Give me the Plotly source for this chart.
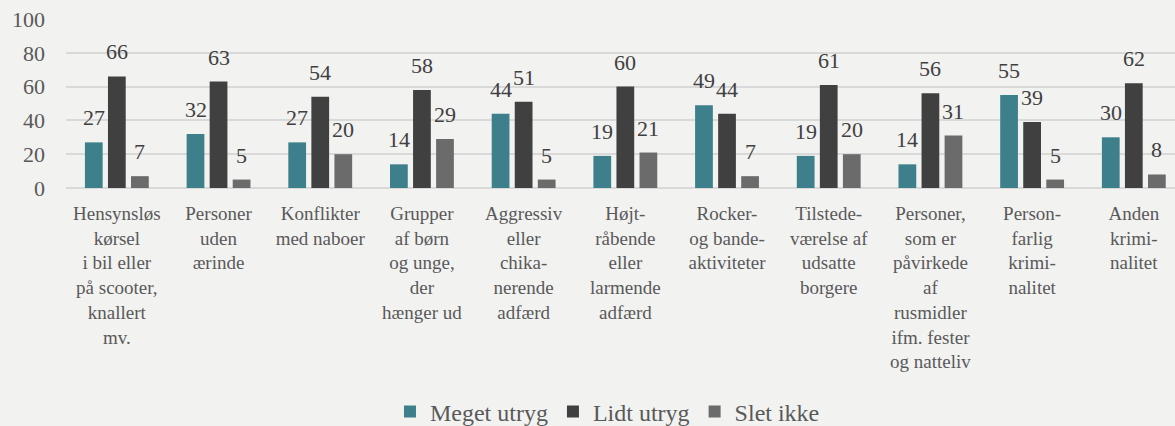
import plotly.graph_objects as go

categories = [
    "Hensynsløs<br>kørsel<br>i bil eller<br>på scooter,<br>knallert<br>mv.",
    "Personer<br>uden<br>ærinde",
    "Konflikter<br>med naboer",
    "Grupper<br>af børn<br>og unge,<br>der<br>hænger ud",
    "Aggressiv<br>eller<br>chika-<br>nerende<br>adfærd",
    "Højt-<br>råbende<br>eller<br>larmende<br>adfærd",
    "Rocker-<br>og bande-<br>aktiviteter",
    "Tilstede-<br>værelse af<br>udsatte<br>borgere",
    "Personer,<br>som er<br>påvirkede<br>af<br>rusmidler<br>ifm. fester<br>og natteliv",
    "Person-<br>farlig<br>krimi-<br>nalitet",
    "Anden<br>krimi-<br>nalitet",
]
series_names = ["Meget utryg", "Lidt utryg", "Slet ikke"]
meget_utryg = [27, 32, 27, 14, 44, 19, 49, 19, 14, 55, 30]
lidt_utryg = [66, 63, 54, 58, 51, 60, 44, 61, 56, 39, 62]
slet_ikke = [7, 5, 20, 29, 5, 21, 7, 20, 31, 5, 8]
series_values = [meget_utryg, lidt_utryg, slet_ikke]
colors = ["#3d7f8a", "#404040", "#6b6b6b"]

FONT = "Liberation Serif"

fig = go.Figure()
for name, vals, col in zip(series_names, series_values, colors):
    fig.add_trace(go.Bar(name=name, x=categories, y=vals, marker_color=col,
                         marker_line_width=0))

offsets = [-23, 0, 23]
for vals, dx in zip(series_values, offsets):
    for c, v in zip(categories, vals):
        fig.add_annotation(x=c, y=v, text=str(v), showarrow=False,
                           xanchor="center", yanchor="bottom", xshift=dx, yshift=10,
                           font=dict(family=FONT, size=22, color="#404040"))

fig.update_layout(
    width=1175, height=426,
    margin=dict(l=66, r=0, t=19, b=238, autoexpand=False),
    paper_bgcolor="#f2f2f1", plot_bgcolor="#f2f2f1",
    barmode="group", bargap=0.32, bargroupgap=0.23,
    font=dict(family=FONT, color="#595959"),
    showlegend=True,
    legend=dict(orientation="h", xref="container", x=0.517, xanchor="center",
                yref="container", y=0.033, yanchor="middle",
                font=dict(family=FONT, size=24, color="#595959"),
                itemwidth=30, tracegroupgap=0),
)
fig.update_xaxes(range=[-0.5, 10.405], showgrid=False, showline=False, ticks="",
                 tickfont=dict(family=FONT, size=19, color="#595959"), tickangle=0,
                 ticklabelstandoff=12, automargin=False)
fig.update_yaxes(range=[0, 100], dtick=20, showgrid=True, gridcolor="#d9d9d9", gridwidth=2,
                 zeroline=True, zerolinecolor="#d9d9d9", zerolinewidth=2, showline=False,
                 tickfont=dict(family=FONT, size=22, color="#595959"), ticklabelstandoff=20,
                 automargin=False)

fig.write_html("out.html", config={"displayModeBar": False},
               post_script="document.body.style.margin='0';document.body.style.overflow='hidden';")
